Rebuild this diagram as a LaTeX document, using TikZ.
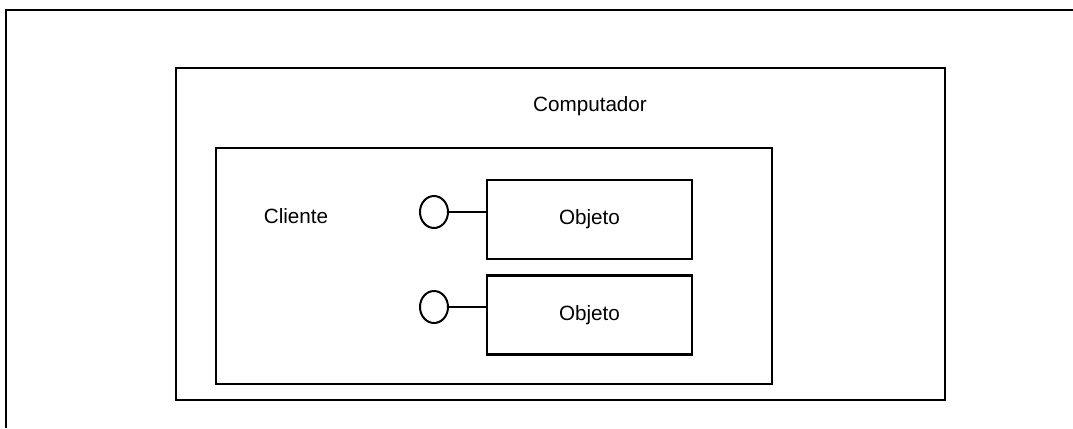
\documentclass[tikz,border=0pt]{standalone}
\usepackage{fontspec}
\setmainfont{Liberation Sans}
\usetikzlibrary{shapes.geometric, positioning}

\begin{document}
\begin{tikzpicture}[
    x=0.75pt, y=-0.75pt,
    frame/.style={rectangle, draw, line width=1.8pt, inner sep=0pt},
    objbox/.style={frame, minimum width=153.75pt, minimum height=59.25pt, font=\fontsize{15.5}{18}\selectfont},
    port/.style={ellipse, draw, line width=1.5pt, minimum width=21pt, minimum height=24pt, inner sep=0pt},
    link/.style={line width=1.1pt},
    label/.style={font=\fontsize{15.5}{18}\selectfont}
]
\useasboundingbox (0,0) rectangle (1073,428);

% marco exterior
\draw[line width=1.8pt] (1073,10) -- (6,10) -- (6,428);

% computador y cliente
\node[frame, minimum width=576.75pt, minimum height=249pt] (comp) at (560.5,234) {};
\node[label] (complabel) at (590,106) {Computador};
\node[frame, minimum width=417pt, minimum height=177pt] (cli) at (494,266) {};
\node[label] (clilabel) at (296,216) {Cliente};

% objetos
\node[objbox] (obj1) at (589.5,219.5) {Objeto};
\node[objbox] (obj2) at (589.5,315) {Objeto};

% interfaces
\node[port] (port1) at (434,212) {};
\node[port] (port2) at (434,307) {};

% conexiones
\draw[link] (port1.east) -- (port1.east -| obj1.west);
\draw[link] (port2.east) -- (port2.east -| obj2.west);

\end{tikzpicture}
\end{document}
